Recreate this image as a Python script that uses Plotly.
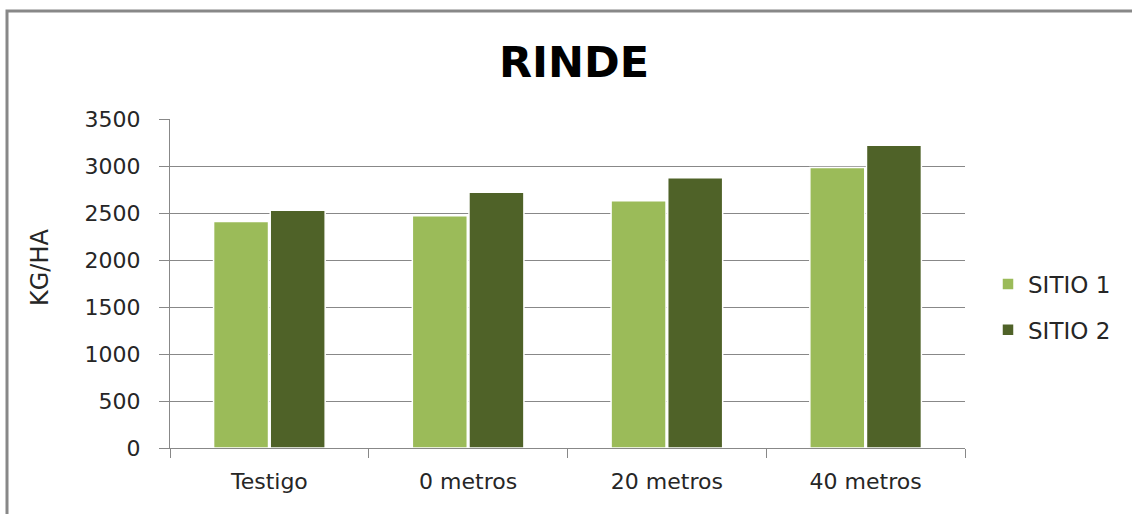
import plotly.graph_objects as go

categories = ["Testigo", "0 metros", "20 metros", "40 metros"]
sitio1 = [2410, 2470, 2630, 2985]
sitio2 = [2530, 2720, 2875, 3220]
y_ticks = [0, 500, 1000, 1500, 2000, 2500, 3000, 3500]

W, H = 1132, 514
L, R, T, B = 170, 1132 - 965, 119, 514 - 448
pw, ph = W - L - R, H - T - B

def px(x):
    return (x - L) / pw

def py(y):
    return (H - B - y) / ph

FONT = "DejaVu Sans"
TXT = "#262626"

fig = go.Figure()
fig.add_trace(go.Bar(name="SITIO 1", x=categories, y=sitio1, legendgroup="a",
                     marker=dict(color="#9BBB59", line=dict(color="white", width=1.5))))
fig.add_trace(go.Bar(name="SITIO 2", x=categories, y=sitio2, legendgroup="b",
                     marker=dict(color="#4F6228", line=dict(color="white", width=1.5))))

fig.update_layout(
    width=W, height=H,
    margin=dict(l=L, r=R, t=T, b=B, pad=0),
    paper_bgcolor="white", plot_bgcolor="white",
    barmode="group", bargap=0.43, bargroupgap=0.03,
    font=dict(family=FONT, size=22, color=TXT),
    showlegend=True,
    legend=dict(x=px(988), xanchor="left", y=py(307), yanchor="middle",
                font=dict(size=23, color=TXT), tracegroupgap=13,
                traceorder="grouped", itemwidth=30, bgcolor="rgba(0,0,0,0)"),
    xaxis=dict(type="category", showline=True, linecolor="#888888", linewidth=1,
               ticks="outside", tickson="boundaries", ticklen=9, tickcolor="#888888",
               tickfont=dict(family=FONT, size=22, color=TXT), ticklabelstandoff=14,
               showgrid=False, fixedrange=True),
    yaxis=dict(range=[0, 3500], tickvals=y_ticks, showline=True, linecolor="#888888",
               linewidth=1, ticks="outside", ticklen=10, tickcolor="#888888",
               gridcolor="#888888", gridwidth=1, zeroline=False,
               tickfont=dict(family=FONT, size=22, color=TXT), ticklabelstandoff=14,
               fixedrange=True),
    shapes=[dict(type="rect", xref="paper", yref="paper",
                 x0=px(7), x1=px(1145), y0=py(530), y1=py(11),
                 line=dict(color="#888888", width=3), fillcolor="rgba(0,0,0,0)",
                 layer="below")],
    annotations=[
        dict(text="<b>RINDE</b>", xref="paper", yref="paper", x=px(574), y=py(62),
             xanchor="center", yanchor="middle", showarrow=False,
             font=dict(family=FONT, size=43, color="#000000")),
        dict(text="KG/HA", xref="paper", yref="paper", x=px(40), y=py(268),
             xanchor="center", yanchor="middle", showarrow=False, textangle=-90,
             font=dict(family=FONT, size=24, color=TXT)),
    ],
)

fig.write_html("out.html")
